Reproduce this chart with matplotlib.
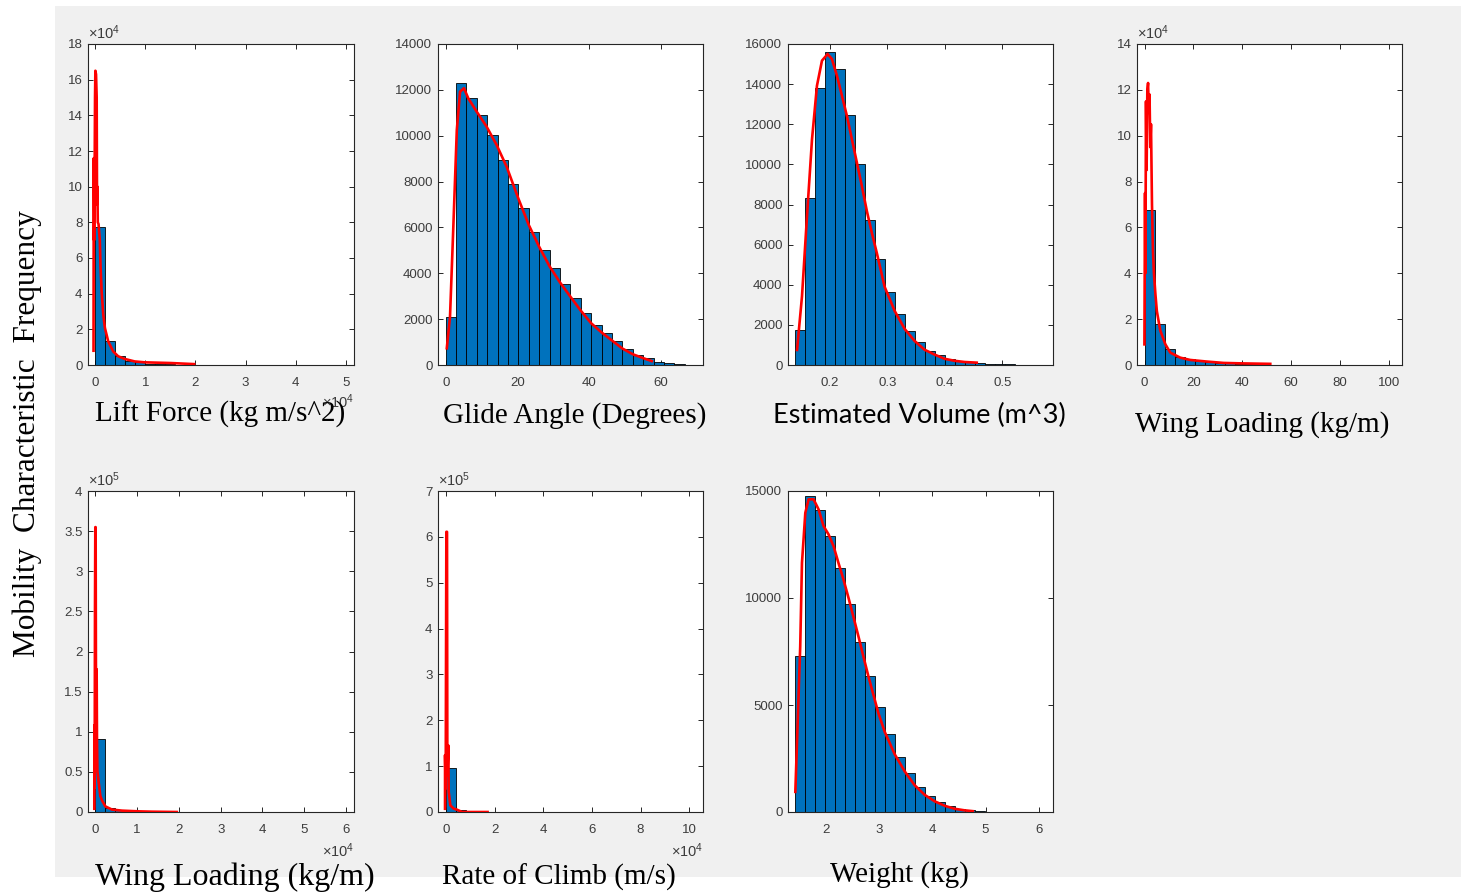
import numpy as np
import matplotlib
matplotlib.use("Agg")
import matplotlib.pyplot as plt
from matplotlib.patches import Rectangle
from matplotlib.ticker import FuncFormatter, FixedLocator
from matplotlib.transforms import offset_copy

# ---------------- data ----------------
# Lift Force (kg m/s^2)
LIFT_BIN_START, LIFT_BIN_WIDTH = 0.0, 2000.0
LIFT_COUNTS = [77500, 13600, 5200, 2200, 1500, 700, 450, 300, 200, 120, 80, 50, 35,
               25, 15, 10, 0, 0, 5, 0, 0, 0, 0, 0, 3]
LIFT_FIT_X = [-300, -250, -180, -100, 0, 70, 200, 330, 400, 470, 550, 700, 950, 1100,
              1316, 1645, 1974, 2632, 3618, 4605, 5921, 7895, 9868, 15130, 19740]
LIFT_FIT_Y = [8000, 116000, 70000, 95000, 150000, 165000, 163000, 150000, 90000,
              100000, 80000, 79000, 70000, 55000, 41200, 28200, 20700, 13200, 7600,
              4900, 3400, 2000, 1500, 1100, 500]

# Glide Angle (Degrees)
GLIDE_BIN_START, GLIDE_BIN_WIDTH = 0.0, 2.9
GLIDE_COUNTS = [2100, 12300, 11650, 10890, 10050, 8940, 7900, 6860, 5820, 5020, 4220,
                3520, 2910, 2280, 1750, 1380, 1030, 680, 440, 290, 150, 75, 30, 20]
GLIDE_FIT_X = [0.3, 1.2, 2.1, 3.1, 4.0, 5.1, 6.3, 8.65, 11.4, 14.2, 17.0, 20.3, 23.2,
               26.1, 29.0, 31.9, 34.8, 37.7, 40.6, 43.5, 46.4, 49.3, 52.2, 55.1, 57.5]
GLIDE_FIT_Y = [730, 2100, 5900, 10250, 11920, 12070, 11630, 11050, 10400, 9600, 8650,
               7250, 6100, 5150, 4300, 3600, 2980, 2370, 1820, 1420, 1070, 720, 470,
               300, 170]

# Estimated Volume (m^3)
VOL_BIN_START, VOL_BIN_WIDTH = 0.1393, 0.01736
VOL_COUNTS = [1750, 8330, 13800, 15600, 14750, 12450, 10000, 7250, 5300, 3650, 2550,
              1700, 1130, 700, 480, 280, 200, 130, 100, 70, 40, 25, 20, 15, 10]
VOL_FIT_X = [0.1434, 0.152, 0.1607, 0.1694, 0.178, 0.1867, 0.1965, 0.204, 0.2127,
             0.2214, 0.23, 0.2387, 0.2474, 0.256, 0.2647, 0.2734, 0.282, 0.2955,
             0.3129, 0.3303, 0.3476, 0.365, 0.3823, 0.3997, 0.417, 0.4344, 0.4555]
VOL_FIT_Y = [750, 3420, 7420, 11250, 13920, 15170, 15500, 15250, 14420, 13420, 12420,
             11250, 10080, 8920, 7670, 6580, 5580, 3900, 2700, 1800, 1200, 760, 520,
             310, 210, 150, 117]

# Wing Loading (kg/m) - top right
WL1_BIN_START, WL1_BIN_WIDTH = 0.0, 4.1
WL1_COUNTS = [67500, 17700, 6800, 3500, 2400, 1700, 1300, 950, 700, 500, 350, 250,
              150, 100, 70, 50, 30, 20, 10]
WL1_FIT_X = [-0.1, 0.15, 0.3, 0.55, 0.8, 1.1, 1.4, 1.7, 2.0, 2.3, 2.6, 3.0, 3.4, 3.8,
             4.4, 5.0, 6.4, 8.5, 10.5, 14.6, 18.7, 25.5, 32.4, 40.0, 51.5]
WL1_FIT_Y = [9000, 75000, 40000, 115000, 85000, 120000, 123000, 110000, 118000,
             95000, 105000, 70000, 50000, 40000, 31000, 23500, 15000, 9000, 5400,
             3200, 2200, 1500, 900, 700, 500]

# Wing Loading (kg/m) - bottom left
WL2_BIN_START, WL2_BIN_WIDTH = 0.0, 2400.0
WL2_COUNTS = [91400, 5000, 2000, 900, 400, 200, 100, 50]
WL2_FIT_X = [-240, -230, -160, -80, 0, 80, 160, 240, 320, 400, 500, 640, 800, 1200,
             1600, 2400, 4000, 6400, 10400, 13500, 19500]
WL2_FIT_Y = [4000, 108000, 30000, 250000, 355000, 355000, 150000, 60000, 178000,
             90000, 50000, 45000, 37000, 20000, 14500, 7000, 3000, 1700, 800, 400, 0]

# Rate of Climb (m/s)
ROC_BIN_START, ROC_BIN_WIDTH = 0.0, 4100.0
ROC_COUNTS = [95000, 4200, 500, 200, 60, 25]
ROC_FIT_X = [-410, -400, -137, 137, 410, 547, 958, 1094, 1780, 3150, 4500, 6570, 17100]
ROC_FIT_Y = [7000, 124000, 51000, 611000, 611000, 80000, 145000, 44000, 14500, 7300,
             5100, 0, 0]

# Weight (kg)
WT_BIN_START, WT_BIN_WIDTH = 1.405, 0.1884
WT_COUNTS = [7270, 14770, 14090, 12890, 11390, 9720, 7940, 6340, 4890, 3625, 2580,
             1800, 1170, 730, 470, 266, 140, 78, 47]
WT_FIT_X = [1.418, 1.51, 1.543, 1.606, 1.668, 1.762, 1.856, 1.95, 2.044, 2.138, 2.23,
            2.325, 2.42, 2.51, 2.607, 2.70, 2.795, 2.889, 2.983, 3.1006, 3.289,
            3.4774, 3.6658, 3.8542, 4.0426, 4.231, 4.4194, 4.6, 4.76]
WT_FIT_Y = [940, 7730, 11640, 13980, 14610, 14610, 14140, 13360, 12970, 12420, 11640,
            10860, 10000, 9140, 8200, 7265, 6330, 5470, 4610, 3750, 2700, 1900, 1250,
            800, 500, 290, 150, 80, 40]

# ticks
LIFT_XT = [0, 10000, 20000, 30000, 40000, 50000]
LIFT_YT = [0, 20000, 40000, 60000, 80000, 100000, 120000, 140000, 160000, 180000]
GLIDE_XT = [0, 20, 40, 60]
GLIDE_YT = [0, 2000, 4000, 6000, 8000, 10000, 12000, 14000]
VOL_XT = [0.2, 0.3, 0.4, 0.5]
VOL_YT = [0, 2000, 4000, 6000, 8000, 10000, 12000, 14000, 16000]
WL1_XT = [0, 20, 40, 60, 80, 100]
WL1_YT = [0, 20000, 40000, 60000, 80000, 100000, 120000, 140000]
WL2_XT = [0, 10000, 20000, 30000, 40000, 50000, 60000]
WL2_YT = [0, 50000, 100000, 150000, 200000, 250000, 300000, 350000, 400000]
ROC_XT = [0, 20000, 40000, 60000, 80000, 100000]
ROC_YT = [0, 100000, 200000, 300000, 400000, 500000, 600000, 700000]
WT_XT = [2, 3, 4, 5, 6]
WT_YT = [0, 5000, 10000, 15000]

XLABELS = ["Lift Force (kg m/s^2)", "Glide Angle (Degrees)", "Estimated Volume (m^3)",
           "Wing Loading (kg/m)", "Wing Loading (kg/m)", "Rate of Climb (m/s)",
           "Weight (kg)"]
YLABEL = "Mobility  Characteristic  Frequency"

# ---------------- style ----------------
plt.rcParams["font.family"] = ["Liberation Sans", "DejaVu Sans"]
plt.rcParams["mathtext.fontset"] = "custom"
plt.rcParams["mathtext.rm"] = "Liberation Sans"
plt.rcParams["mathtext.it"] = "Liberation Sans:italic"

W, H = 1461, 893
BLUE = "#0072BD"
TICKC = "#3c3c3c"
AXC = "#262626"
BG = "#f0f0f0"

fig = plt.figure(figsize=(W / 100, H / 100), dpi=100, facecolor="white")
fig.patches.append(Rectangle((55 / W, 1 - 877 / H), 1 - 55 / W, (877 - 6) / H,
                             transform=fig.transFigure, facecolor=BG,
                             edgecolor="none", zorder=-10))


def edges_from(start, width, counts):
    return start + width * np.arange(len(counts) + 1)


def fmt(exp):
    scale = 10.0 ** exp
    return FuncFormatter(lambda v, p: f"{v / scale:g}")


def panel(box, start, width, counts, fx, fy, xlim, ylim, xt, yt, xexp=0, yexp=0,
          xoff_dy=29):
    l, t, r, b = box
    ax = fig.add_axes([l / W, 1 - b / H, (r - l) / W, (b - t) / H])
    edges = edges_from(start, width, counts)
    ax.bar(edges[:-1], counts, width=np.diff(edges), align="edge", color=BLUE,
           edgecolor="black", linewidth=0.6, zorder=2)
    ax.plot(fx, fy, color="red", lw=1.9, zorder=3, solid_joinstyle="round")
    ax.set_xlim(*xlim)
    ax.set_ylim(*ylim)
    ax.xaxis.set_major_locator(FixedLocator(xt))
    ax.yaxis.set_major_locator(FixedLocator(yt))
    ax.xaxis.set_major_formatter(fmt(xexp))
    ax.yaxis.set_major_formatter(fmt(yexp))
    ax.tick_params(direction="in", length=3.5, width=0.7, colors=AXC,
                   labelcolor=TICKC, labelsize=9.5, top=True, right=True)
    ax.tick_params(axis="x", pad=8.5)
    ax.tick_params(axis="y", pad=4)
    for s in ax.spines.values():
        s.set_color(AXC)
        s.set_linewidth(0.8)
    ax.set_facecolor("white")
    if yexp:
        ax.text(0.0, 1.0, r"$\times\mathregular{10^{%d}}$" % yexp,
                transform=offset_copy(ax.transAxes, fig, x=0, y=2, units="dots"),
                ha="left", va="bottom", fontsize=10.5, color=TICKC)
    if xexp:
        ax.text(1.0, 0.0, r"$\times\mathregular{10^{%d}}$" % xexp,
                transform=offset_copy(ax.transAxes, fig, x=0, y=-xoff_dy, units="dots"),
                ha="right", va="top", fontsize=10.5, color=TICKC)
    return ax


panel((88, 44, 354, 365), LIFT_BIN_START, LIFT_BIN_WIDTH, LIFT_COUNTS,
      LIFT_FIT_X, LIFT_FIT_Y, (-1400, 51600), (0, 180000), LIFT_XT, LIFT_YT,
      xexp=4, yexp=4, xoff_dy=27)
panel((438, 44, 703, 365), GLIDE_BIN_START, GLIDE_BIN_WIDTH, GLIDE_COUNTS,
      GLIDE_FIT_X, GLIDE_FIT_Y, (-2.15, 71.8), (0, 14000), GLIDE_XT, GLIDE_YT)
panel((788, 44, 1053, 365), VOL_BIN_START, VOL_BIN_WIDTH, VOL_COUNTS,
      VOL_FIT_X, VOL_FIT_Y, (0.1277, 0.588), (0, 16000), VOL_XT, VOL_YT)
panel((1137, 44, 1402, 365), WL1_BIN_START, WL1_BIN_WIDTH, WL1_COUNTS,
      WL1_FIT_X, WL1_FIT_Y, (-3.14, 105.5), (0, 140000), WL1_XT, WL1_YT, yexp=4)
panel((88, 491, 354, 812), WL2_BIN_START, WL2_BIN_WIDTH, WL2_COUNTS,
      WL2_FIT_X, WL2_FIT_Y, (-1750, 61900), (0, 400000), WL2_XT, WL2_YT,
      xexp=4, yexp=5)
panel((438, 491, 703, 812), ROC_BIN_START, ROC_BIN_WIDTH, ROC_COUNTS,
      ROC_FIT_X, ROC_FIT_Y, (-3300, 105700), (0, 700000), ROC_XT, ROC_YT,
      xexp=4, yexp=5)
panel((788, 491, 1053, 812), WT_BIN_START, WT_BIN_WIDTH, WT_COUNTS,
      WT_FIT_X, WT_FIT_Y, (1.28, 6.27), (0, 15000), WT_XT, WT_YT)

# pasted-on labels (figure pixel coordinates: left x, baseline y, size, family)
SERIF = ["Liberation Serif", "DejaVu Serif"]
label_specs = [
    (95, 422, 21, SERIF),
    (443, 423, 21, SERIF),
    (773, 423, 19.5, ["Lato", "DejaVu Sans"]),
    (1135, 432, 21, SERIF),
    (95, 885, 23, SERIF),
    (442, 885, 21, SERIF),
    (830, 882, 21, SERIF),
]
for txt, (x, y, size, fam) in zip(XLABELS, label_specs):
    fig.text(x / W, 1 - y / H, txt, ha="left", va="baseline", fontsize=size,
             family=fam, color="black", zorder=5)

fig.text(27 / W, 1 - 434 / H, YLABEL, rotation=90, ha="center", va="center",
         fontsize=22.5, family=SERIF, color="black")

fig.savefig("out.png", dpi=100, facecolor="white")
